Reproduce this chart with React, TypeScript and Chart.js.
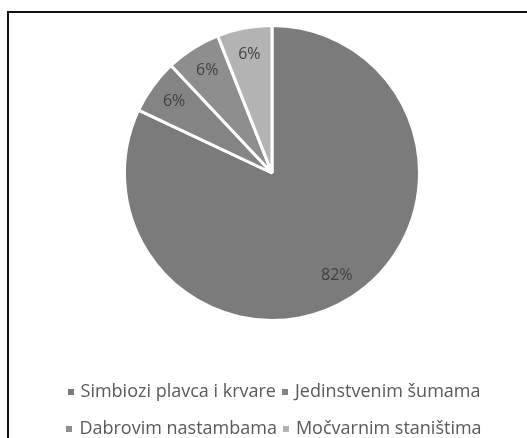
import React, { useEffect, useRef } from 'react';
import { Chart, registerables } from 'chart.js';

Chart.register(...registerables);

const categories = ['Simbiozi plavca i krvare', 'Jedinstvenim šumama', 'Dabrovim nastambama', 'Močvarnim staništima'];
const values = [82, 6, 6, 6];
const percentLabels = ['82%', '6%', '6%', '6%'];
const sliceColors = ['#7b7b7b', '#848484', '#8e8e8e', '#b3b3b3'];

const FONT = '"Open Sans", "Noto Sans", sans-serif';

const sliceLabelPlugin = {
  id: 'sliceLabels',
  afterDatasetsDraw(chart: any, _args: any, opts: any) {
    const ctx = chart.ctx;
    const meta = chart.getDatasetMeta(0);
    ctx.save();
    ctx.font = `${opts.fontSize}px ${FONT}`;
    ctx.fillStyle = opts.color;
    ctx.textAlign = 'center';
    ctx.textBaseline = 'middle';
    meta.data.forEach((arc: any, i: number) => {
      const p = arc.getProps(['x', 'y', 'startAngle', 'endAngle', 'outerRadius'], true);
      const mid = (p.startAngle + p.endAngle) / 2;
      const d = p.outerRadius * opts.ratio;
      ctx.fillText(percentLabels[i], p.x + Math.cos(mid) * d, p.y + Math.sin(mid) * d);
    });
    ctx.restore();
  },
};

const legendPlugin = {
  id: 'excelLegend',
  afterDraw(chart: any, _args: any, o: any) {
    const ctx = chart.ctx;
    ctx.save();
    ctx.font = `${o.fontSize}px ${FONT}`;
    ctx.textBaseline = 'middle';
    ctx.textAlign = 'left';
    const items = categories.map((t, i) => ({
      t,
      c: sliceColors[i],
      w: o.box + o.gap + ctx.measureText(t).width,
    }));
    const rows: { items: typeof items; w: number }[] = [];
    let cur: typeof items = [];
    let curW = 0;
    items.forEach((it) => {
      const add = cur.length ? o.itemGap + it.w : it.w;
      if (cur.length && curW + add > o.maxWidth) {
        rows.push({ items: cur, w: curW });
        cur = [it];
        curW = it.w;
      } else {
        cur.push(it);
        curW += add;
      }
    });
    if (cur.length) rows.push({ items: cur, w: curW });
    rows.forEach((row, r) => {
      let x = o.centerX - row.w / 2;
      const y = o.top + r * o.lineHeight;
      row.items.forEach((it) => {
        ctx.fillStyle = it.c;
        ctx.fillRect(Math.round(x), Math.round(y - o.box / 2), o.box, o.box);
        ctx.fillStyle = o.color;
        ctx.fillText(it.t, x + o.box + o.gap, y);
        x += it.w + o.itemGap;
      });
    });
    ctx.restore();
  },
};

export default function App() {
  const ref = useRef<HTMLCanvasElement | null>(null);

  useEffect(() => {
    if (!ref.current) return;
    const chart = new Chart(ref.current, {
      type: 'pie',
      data: {
        labels: categories,
        datasets: [
          {
            data: values,
            backgroundColor: sliceColors,
            borderColor: '#ffffff',
            borderWidth: 3,
          },
        ],
      },
      options: {
        animation: false,
        responsive: false,
        layout: { padding: { top: 24, bottom: 116, left: 17, right: 0 } },
        plugins: {
          legend: { display: false },
          tooltip: { enabled: false },
          sliceLabels: { fontSize: 16, color: '#404040', ratio: 0.82 },
          excelLegend: {
            fontSize: 18,
            color: '#595959',
            box: 6,
            gap: 7,
            itemGap: 6,
            maxWidth: 470,
            centerX: 274,
            top: 391.5,
            lineHeight: 37,
          },
        } as any,
      },
      plugins: [sliceLabelPlugin, legendPlugin],
    });
    return () => chart.destroy();
  }, []);

  return (
    <div
      style={{
        position: 'fixed',
        left: 0,
        top: 0,
        width: 527,
        height: 438,
        overflow: 'hidden',
        background: '#ffffff',
      }}
    >
      <div
        style={{
          position: 'absolute',
          left: 7,
          top: 11,
          width: 620,
          height: 620,
          border: '2px solid #111111',
          boxSizing: 'border-box',
        }}
      />
      <canvas
        ref={ref}
        width={527}
        height={438}
        style={{ position: 'absolute', left: 0, top: 0, display: 'block', width: 527, height: 438 }}
      />
    </div>
  );
}
